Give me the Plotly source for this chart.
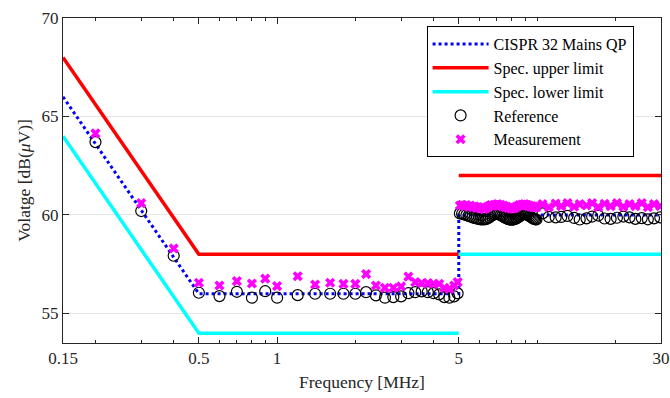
import plotly.graph_objects as go

# Limit lines (frequency MHz, level dBuV); None = break in the line
cispr_f = [0.15, 0.5, 5, 5, 30]
cispr_v = [66, 56, 56, 60, 60]
upper_f = [0.15, 0.5, 5, None, 5, 30]
upper_v = [68, 58, 58, None, 62, 62]
lower_f = [0.15, 0.5, 5, None, 5, 30]
lower_v = [64, 54, 54, None, 58, 58]

# Measured points
freq = [0.2, 0.3, 0.4, 0.5, 0.6, 0.7, 0.8, 0.9, 1.0, 1.2, 1.4, 1.6, 1.8, 2.0,
        2.2, 2.4, 2.6, 2.8, 3.0, 3.2, 3.4, 3.6, 3.8, 4.0, 4.2, 4.4, 4.6, 4.8, 4.95,
        5.05, 5.15, 5.25, 5.35, 5.45, 5.55, 5.65, 5.75, 5.85, 5.95,
        6.05, 6.15, 6.25, 6.35, 6.45, 6.55, 6.65, 6.75, 6.85, 6.95,
        7.05, 7.15, 7.25, 7.35, 7.45, 7.55, 7.65, 7.75, 7.85, 7.95,
        8.05, 8.15, 8.25, 8.35, 8.45, 8.55, 8.65, 8.75, 8.85, 8.95,
        9.05, 9.15, 9.25, 9.35, 9.45, 9.55, 9.65, 9.75, 9.85, 9.95,
        10.5, 11.1, 11.8, 12.4, 13.1, 13.9, 14.6, 15.5, 16.3, 17.2,
        18.2, 19.2, 20.3, 21.5, 22.7, 23.9, 25.3, 26.7, 28.2, 29.8]

reference = [63.70, 60.20, 57.93, 56.05, 55.88, 56.10, 55.80, 56.13, 55.80, 55.93, 56.00, 56.00, 56.00, 56.00,
             56.08, 55.92, 55.80, 55.83, 55.87, 56.03, 56.08, 56.12, 56.08, 56.03, 55.97, 55.83, 55.80, 55.87, 56.02,
             60.08, 60.06, 60.03, 59.99, 59.95, 59.92, 59.88, 59.85, 59.82, 59.80,
             59.78, 59.77, 59.77, 59.79, 59.83, 59.88, 59.95, 60.00, 60.03, 60.06,
             60.05, 60.03, 59.99, 59.95, 59.90, 59.86, 59.82, 59.79, 59.77, 59.76,
             59.76, 59.78, 59.80, 59.84, 59.88, 59.93, 59.97, 60.01, 60.04, 60.05,
             60.04, 60.02, 59.99, 59.95, 59.91, 59.87, 59.83, 59.80, 59.78, 59.77,
             60.08, 59.90, 59.88, 59.90, 59.95, 59.85, 59.77, 59.83, 59.92, 59.97,
             59.82, 59.80, 59.86, 59.92, 59.88, 59.80, 59.84, 59.78, 59.83, 59.88]

measurement = [64.14, 60.60, 58.30, 56.56, 56.42, 56.64, 56.52, 56.77, 56.39, 56.89, 56.47, 56.56, 56.50, 56.50,
               57.00, 56.42, 56.30, 56.30, 56.37, 56.87, 56.59, 56.54, 56.54, 56.50, 56.50, 56.30, 56.25, 56.42, 56.59,
               60.48, 60.52, 60.45, 60.50, 60.42, 60.47, 60.40, 60.44, 60.36, 60.40,
               60.33, 60.38, 60.30, 60.35, 60.40, 60.45, 60.50, 60.47, 60.52, 60.50,
               60.55, 60.48, 60.52, 60.44, 60.47, 60.40, 60.42, 60.35, 60.38, 60.32,
               60.35, 60.33, 60.38, 60.42, 60.45, 60.50, 60.48, 60.53, 60.50, 60.55,
               60.50, 60.52, 60.46, 60.48, 60.42, 60.45, 60.40, 60.42, 60.38, 60.40,
               60.55, 60.40, 60.58, 60.45, 60.60, 60.42, 60.55, 60.48, 60.60, 60.40,
               60.57, 60.45, 60.60, 60.42, 60.55, 60.45, 60.60, 60.40, 60.55, 60.45]

x_tickvals = [0.15, 0.5, 1, 5, 30]
x_ticktext = ["0.15", "0.5", "1", "5", "30"]
x_minor = [0.2, 0.3, 0.4, 0.6, 0.7, 0.8, 0.9, 2, 3, 4, 6, 7, 8, 9, 10, 20]
y_tickvals = [55, 60, 65, 70]

FONT = "Liberation Serif"
TXT = "#262626"

fig = go.Figure()
fig.add_trace(go.Scatter(x=cispr_f, y=cispr_v, mode="lines", name="CISPR 32 Mains QP",
                         line=dict(color="#0000ff", width=3, dash="dot")))
fig.add_trace(go.Scatter(x=upper_f, y=upper_v, mode="lines", name="Spec. upper limit",
                         line=dict(color="#ff0000", width=3.5), connectgaps=False))
fig.add_trace(go.Scatter(x=lower_f, y=lower_v, mode="lines", name="Spec. lower limit",
                         line=dict(color="#00ffff", width=3.5), connectgaps=False))
fig.add_trace(go.Scatter(x=freq, y=reference, mode="markers", name="Reference",
                         marker=dict(symbol="circle-open", size=11, color="black",
                                     line=dict(width=1.2, color="black"))))
fig.add_trace(go.Scatter(x=freq, y=measurement, mode="markers", name="Measurement",
                         marker=dict(symbol="x", size=9, color="#ff00ff", line=dict(width=0))))

fig.update_layout(
    width=670, height=398,
    margin=dict(l=63, r=9, t=18, b=55, autoexpand=False),
    paper_bgcolor="white", plot_bgcolor="white",
    font=dict(family=FONT, size=17, color=TXT),
    showlegend=True,
    legend=dict(x=0.608, y=0.975, xanchor="left", yanchor="top",
                bgcolor="white", bordercolor="black", borderwidth=1,
                font=dict(family=FONT, size=16, color="black"),
                itemwidth=56, tracegroupgap=0),
)
fig.update_xaxes(
    type="log", range=[-0.8239, 1.47715], automargin=False,
    tickmode="array", tickvals=x_tickvals, ticktext=x_ticktext,
    ticklabeloverflow="allow",
    ticks="inside", ticklen=6, tickcolor="#262626", tickwidth=1,
    showline=True, linecolor="#262626", linewidth=1, mirror="ticks",
    showgrid=False, zeroline=False,
    minor=dict(tickmode="array", tickvals=x_minor, ticks="inside", ticklen=3,
               tickcolor="#262626", showgrid=False),
    title=dict(text="Frequency [MHz]", font=dict(family=FONT, size=17.5, color=TXT), standoff=8),
    tickfont=dict(family=FONT, size=17, color=TXT),
)
fig.update_yaxes(
    range=[53.5, 70], automargin=False,
    tickmode="array", tickvals=y_tickvals,
    ticks="inside", ticklen=6, tickcolor="#262626", tickwidth=1,
    showline=True, linecolor="#262626", linewidth=1, mirror="ticks",
    showgrid=True, gridcolor="#e6e6e6", gridwidth=1, zeroline=False,
    title=dict(text="Volatge [dB(<i>μ</i>V)]", font=dict(family=FONT, size=17.5, color=TXT), standoff=6),
    tickfont=dict(family=FONT, size=17, color=TXT),
)

fig.write_html("out.html")
